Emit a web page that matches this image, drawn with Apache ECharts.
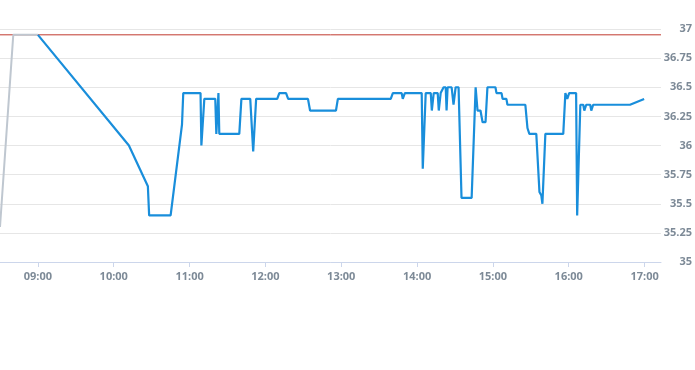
<!DOCTYPE html>
<html>
<head>
<meta charset="utf-8">
<script src="https://cdn.jsdelivr.net/npm/echarts@6/dist/echarts.min.js"></script>
<style>html,body{margin:0;padding:0;background:#fff;}#c{width:695px;height:370px;}</style>
</head>
<body>
<div id="c"></div>
<script>
const axisStart = '08:30';
const axisEnd = '17:13';
const yTicks = [35, 35.25, 35.5, 35.75, 36, 36.25, 36.5, 36.75, 37];
const limitValue = 36.95;

const greyTimes = ['08:30:00', '08:40:30', '09:00:00'];
const greyValues = [35.3, 36.95, 36.95];

const blueTimes = [
  '09:00:00','10:12:00','10:27:00','10:28:00','10:45:00','10:54:00','10:55:00','11:08:40','11:09:20','11:11:40',
  '11:20:20','11:21:10','11:22:50','11:23:30','11:39:20','11:41:00','11:48:00','11:50:20','11:52:40','12:09:20',
  '12:11:00','12:16:20','12:18:00','12:33:40','12:35:20','12:55:50','12:57:20','13:39:10','13:40:50','13:47:50',
  '13:48:40','13:50:20','14:03:40','14:04:30','14:06:50','14:10:50','14:11:40','14:13:10','14:16:20','14:17:10',
  '14:18:40','14:20:10','14:21:00','14:22:40','14:23:20','14:24:10','14:27:20','14:28:50','14:30:30','14:32:50',
  '14:35:10','14:43:10','14:46:20','14:47:50','14:50:10','14:51:50','14:54:10','14:55:40','15:02:00','15:02:50',
  '15:06:50','15:07:40','15:10:40','15:11:30','15:25:40','15:27:20','15:28:50','15:34:20','15:36:50','15:38:20',
  '15:39:10','15:41:30','15:55:40','15:57:20','15:58:50','16:00:20','16:05:50','16:06:40','16:09:10','16:11:30',
  '16:12:20','16:13:50','16:17:00','16:17:50','16:19:20','16:48:30','16:59:40'
];
const blueValues = [
  36.95,36.0,35.65,35.4,35.4,36.18,36.45,36.45,36.0,36.4,
  36.4,36.1,36.45,36.1,36.1,36.4,36.4,35.95,36.4,36.4,
  36.45,36.45,36.4,36.4,36.3,36.3,36.4,36.4,36.45,36.45,
  36.4,36.45,36.45,35.8,36.45,36.45,36.3,36.45,36.45,36.3,
  36.45,36.45,36.5,36.5,36.3,36.5,36.5,36.35,36.5,36.5,
  35.55,35.55,36.5,36.3,36.3,36.2,36.2,36.5,36.5,36.45,
  36.45,36.4,36.4,36.35,36.35,36.15,36.1,36.1,35.6,35.57,
  35.5,36.1,36.1,36.45,36.4,36.45,36.45,35.4,36.35,36.35,
  36.3,36.35,36.35,36.3,36.35,36.35,36.4
];

function ts(t) {
  const p = t.split(':').map(Number);
  return new Date(2024, 0, 1, p[0], p[1], p[2] || 0).getTime();
}
const greyData = greyTimes.map((t, i) => [ts(t), greyValues[i]]);
const blueData = blueTimes.map((t, i) => [ts(t), blueValues[i]]);
const limitData = [[ts(axisStart), limitValue], [ts(axisEnd), limitValue]];

const labelColor = '#7d8a97';
const redColor = '#c0392f';
const chart = echarts.init(document.getElementById('c'), null, {renderer: 'canvas'});
chart.setOption({
  animation: false,
  backgroundColor: '#ffffff',
  grid: {left: 0, right: 31, top: 29, bottom: 108, containLabel: false},
  xAxis: {
    type: 'time',
    min: ts(axisStart),
    max: ts(axisEnd),
    minInterval: 3600000,
    maxInterval: 3600000,
    axisLine: {lineStyle: {color: '#ccd6eb', width: 1}},
    axisTick: {show: true, length: 5, lineStyle: {color: '#ccd6eb'}},
    splitLine: {show: false},
    minorTick: {show: false},
    axisLabel: {
      formatter: function (v) {
        const d = new Date(v);
        return String(d.getHours()).padStart(2, '0') + ':' + String(d.getMinutes()).padStart(2, '0');
      },
      color: labelColor, fontFamily: 'Open Sans', fontSize: 11, fontWeight: 'bold', margin: 9,
      showMinLabel: false, showMaxLabel: false
    }
  },
  yAxis: {
    type: 'value',
    position: 'right',
    min: yTicks[0],
    max: yTicks[yTicks.length - 1],
    interval: 0.25,
    axisLine: {show: false},
    axisTick: {show: false},
    splitLine: {lineStyle: {color: '#e6e6e6', width: 1}},
    axisLabel: {
      align: 'right', margin: 31,
      color: labelColor, fontFamily: 'Open Sans', fontSize: 11, fontWeight: 'bold',
      formatter: function (v) { return String(+v.toFixed(2)); }
    }
  },
  series: [
    {
      name: 'limit', type: 'line', data: limitData, showSymbol: false, symbol: 'none', z: 1,
      silent: true,
      lineStyle: {color: redColor, width: 1}, itemStyle: {color: redColor}
    },
    {
      type: 'line', data: greyData, showSymbol: false, symbol: 'none', z: 2,
      lineStyle: {color: '#bfc7d0', width: 2}, itemStyle: {color: '#bfc7d0'}
    },
    {
      type: 'line', data: blueData, showSymbol: false, symbol: 'none', z: 3,
      lineStyle: {color: '#198edb', width: 2.2}, itemStyle: {color: '#198edb'}
    }
  ]
});
</script>
</body>
</html>
